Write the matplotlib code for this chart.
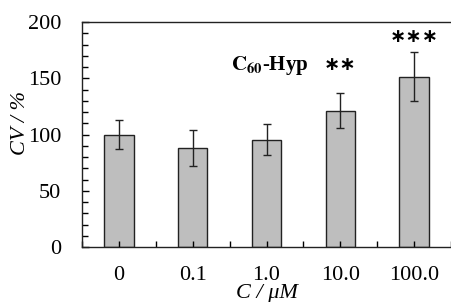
import matplotlib.pyplot as plt
from matplotlib.ticker import MultipleLocator

categories = ['0', '0.1', '1.0', '10.0', '100.0']
cv_values = [100, 88, 95.5, 121, 151.5]
cv_errors = [13, 16, 13.5, 15.5, 22]
stars = ['', '', '', '**', '***']
star_y = [0, 0, 0, 162, 187]

plt.rcParams['font.family'] = ['Liberation Serif', 'DejaVu Serif']
plt.rcParams['mathtext.fontset'] = 'stix'

fig = plt.figure(figsize=(4.51, 3.02), dpi=100)
ax = fig.add_axes([82 / 451, (302 - 247) / 302, (451 - 82) / 451, 225 / 302])

x = range(len(categories))
ax.bar(x, cv_values, width=0.4, color='#bebebe', edgecolor='#222222', linewidth=1.0,
       yerr=cv_errors, error_kw=dict(ecolor='#222222', elinewidth=1.0, capsize=3, capthick=1.0))

ax.set_xlim(-0.5, 4.5)
ax.set_ylim(0, 200)
ax.set_xticks(list(x))
ax.set_xticklabels(categories)
ax.xaxis.set_minor_locator(MultipleLocator(0.5))
ax.yaxis.set_major_locator(MultipleLocator(50))
ax.yaxis.set_minor_locator(MultipleLocator(10))
ax.tick_params(axis='both', which='both', direction='in', labelsize=16, width=1.0)
ax.tick_params(axis='x', which='both', length=4, top=False, pad=14)
ax.tick_params(axis='y', which='both', length=4, right=False, pad=15)
ax.tick_params(axis='y', which='major', length=5)

for s in ax.spines.values():
    s.set_linewidth(1.0)
    s.set_color('#222222')
ax.spines['right'].set_visible(False)

for xi, st, sy in zip(x, stars, star_y):
    if st:
        ax.text(xi, sy, '\u2217' * len(st), ha='center', va='center',
                fontsize=14, fontweight='bold', family='DejaVu Sans')

ax.text(2.05, 161, r'$\mathbf{C_{60}}$' + '-Hyp', ha='center', va='center',
        fontsize=15, fontweight='bold')

ax.set_xlabel('C / \u03bcM', fontsize=16, style='italic')
ax.xaxis.set_label_coords(0.5, -0.163)
ax.set_ylabel('CV / %', fontsize=16, style='italic')
ax.yaxis.set_label_coords(-0.14, 0.55)

fig.savefig('out.png', dpi=100)
